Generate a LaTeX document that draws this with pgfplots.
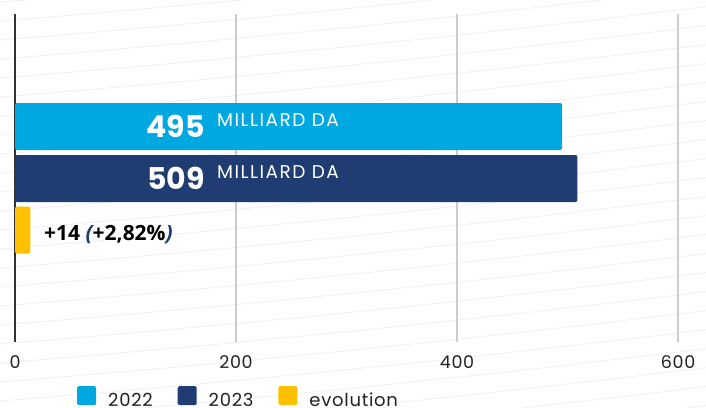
\documentclass[border=0pt]{standalone}
\usepackage{pgfplots}
\pgfplotsset{compat=1.18}
\usepackage{fontspec}
\setmainfont{Poppins}
\newfontfamily\opensans{Open Sans}
\newfontfamily\popls{Poppins}[LetterSpace=8]
\newfontfamily\poplt{Poppins}[LetterSpace=4]
\definecolor{c22}{HTML}{00A8E1}
\definecolor{c23}{HTML}{1F3D73}
\definecolor{cev}{HTML}{FFC000}
\definecolor{gridc}{HTML}{CCCCCC}
\definecolor{axl}{HTML}{333333}
\definecolor{txt}{HTML}{222222}
\begin{document}
\begin{tikzpicture}
\useasboundingbox (0pt,0pt) rectangle (706pt,-407pt);
\begin{scope}[x=1pt,y=1pt]
\foreach \k in {0,...,25}{
  \pgfmathsetmacro\yy{2+19*\k}
  \draw[black!6, line width=0.8pt] (0,-\yy) .. controls (235.3,-\yy+18.8) and (470.7,-\yy+42.6) .. (706,-\yy+71.4);
}
\end{scope}
\begin{axis}[
  at={(15pt,-342pt)}, anchor=south west,
  scale only axis, width=691pt, height=328pt,
  xmin=0, xmax=625.3, ymin=0, ymax=328,
  axis lines*=left,
  axis line style={-},
  x axis line style={draw=none},
  y axis line style={draw=axl, line width=1.6pt},
  xtick={0,200,400,600}, ytick=\empty,
  major tick length=0pt,
  xmajorgrids, grid style={gridc, line width=1.5pt},
  /pgf/number format/assume math mode=true,
  tick label style={font=\poplt\fontsize{17.5}{20}\selectfont, text=txt},
  xticklabel style={anchor=base, yshift=-26pt},
  xbar, bar width=47,
  legend columns=3,
  legend image code/.code={\fill[#1, rounded corners=1.5pt] (0pt,-5pt) rectangle (19pt,14pt);},
  legend style={at={(0,0)}, anchor=north west, xshift=62pt, yshift=-44pt,
    draw=none, fill=none, inner sep=0pt, font=\poplt\fontsize{18}{20}\selectfont, text=txt,
    nodes={inner sep=0pt},
    /tikz/every odd column/.append style={column sep=12pt},
    /tikz/every even column/.append style={column sep=25pt}},
]
\addplot[fill=c22, draw=none, rounded corners=2pt, bar shift=0pt] coordinates {(495,215.5)};
\addplot[fill=c23, draw=none, rounded corners=2pt, bar shift=0pt] coordinates {(509,163.5)};
\addplot[fill=cev, draw=none, rounded corners=2pt, bar shift=0pt] coordinates {(14,112)};
\legend{2022,2023,evolution}
\node[anchor=base east, inner sep=0pt, text=white, font=\bfseries\fontsize{30}{32}\selectfont] at (axis cs:172,205) {495};
\node[anchor=base west, inner sep=0pt, text=white, font=\popls\fontsize{18.5}{20}\selectfont] at (axis cs:182.8,216) {MILLIARD DA};
\node[anchor=base east, inner sep=0pt, text=white, font=\bfseries\fontsize{30}{32}\selectfont] at (axis cs:172,153) {509};
\node[anchor=base west, inner sep=0pt, text=white, font=\popls\fontsize{18.5}{20}\selectfont] at (axis cs:182.8,164) {MILLIARD DA};
\node[anchor=base west, inner sep=0pt, text=black, font=\opensans\bfseries\fontsize{21}{24}\selectfont] at (axis cs:26.2,102) {+14 {\color{c23}\itshape(}+2,82\%{\color{c23}\itshape)}};
\end{axis}
\end{tikzpicture}
\end{document}
